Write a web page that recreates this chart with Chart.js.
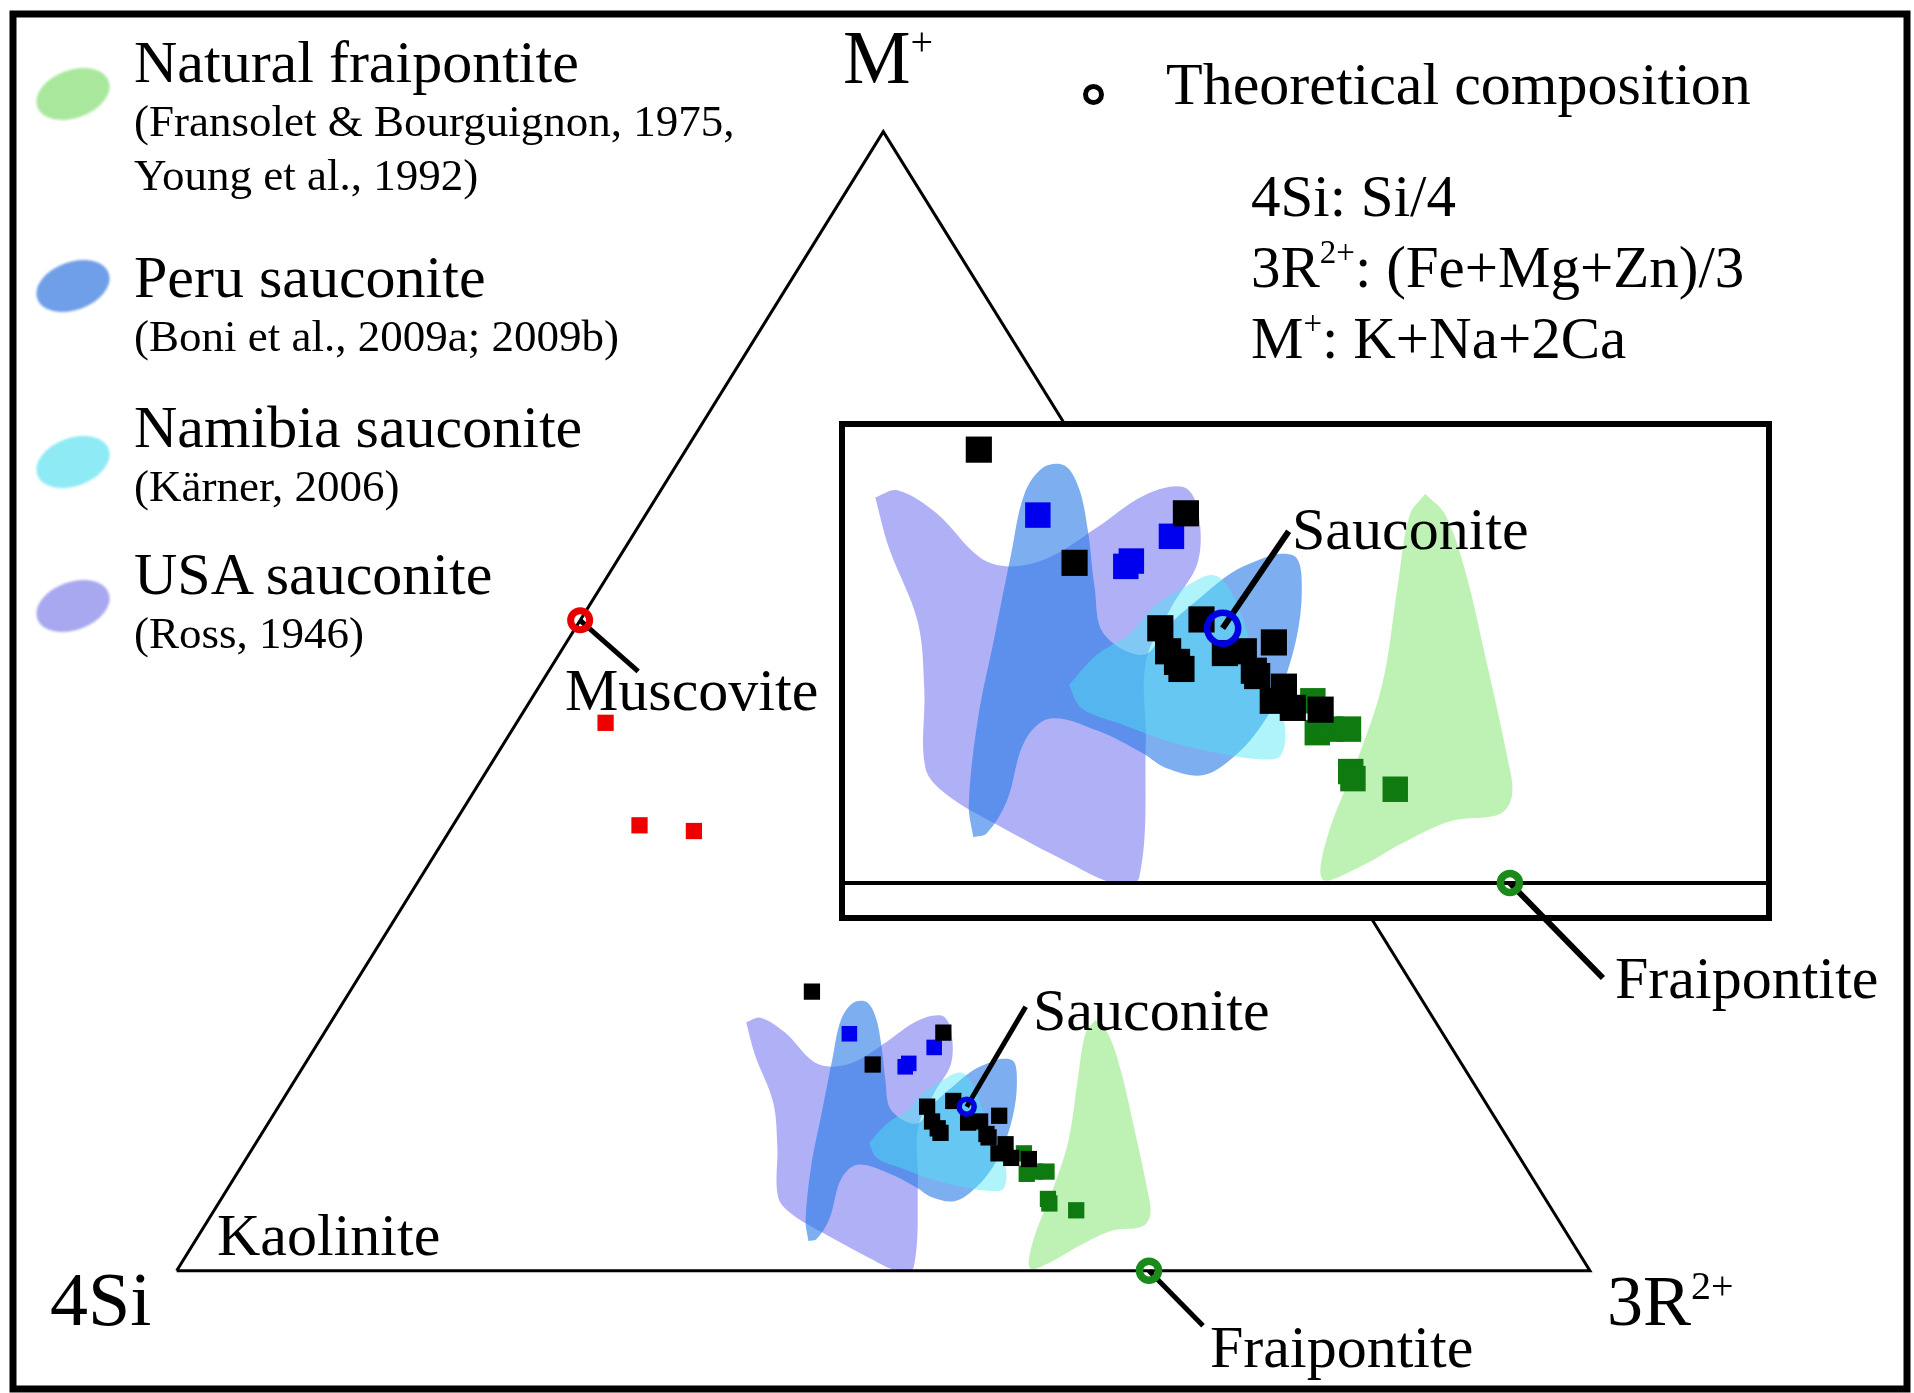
<!DOCTYPE html>
<html><head><meta charset="utf-8">
<script src="https://cdn.jsdelivr.net/npm/chart.js@4.4.0/dist/chart.umd.min.js"></script>
<style>
html,body{margin:0;padding:0;background:#fff;}
#wrap{position:relative;width:1914px;height:1393px;overflow:hidden;font-family:"Liberation Serif","Times New Roman",serif;color:#000;}
canvas{position:absolute;}
.lbl{position:absolute;white-space:nowrap;line-height:1;}
.sup{position:relative;}
.ell{position:absolute;border-radius:50%;}
</style></head>
<body><div id="wrap">
<canvas id="main" width="1914" height="1393" style="left:0;top:0;width:1914px;height:1393px"></canvas>
<canvas id="inset" width="1084" height="640" style="left:830px;top:410px;width:1084px;height:640px"></canvas>
</div>
<script>
// ===== DATA: ternary compositions, % of 3R2+ and M+ (4Si = 100 - 3R2+ - M+) =====
const triangleVertices = [[0,0],[100,0],[0,100],[0,0]];          // 4Si, 3R2+, M+
const theoryNames  = ['Muscovite','Sauconite','Fraipontite'];
const theoryR      = [0, 48.7, 68.8];
const theoryM      = [57.1, 14.4, 0];
const theoryColors = ['#e60000','#0000e0','#1a8a1a'];

const blackSquares = [[32.7,24.5],[43.8,20.9],[40.2,18.1],[45.9,14.4],[46.9,13.1],[47.6,12.5],[48.0,12.1],
  [47.5,14.9],[49.5,13.0],[50.3,13.1],[51.4,13.6],[51.3,12.0],[51.6,11.7],[53.1,11.1],[53.0,10.3],[54.1,9.9],[55.4,9.8]];
const blueSquares  = [[37.2,20.8],[42.6,17.9],[42.7,18.2],[43.8,19.6]];
const greenSquares = [[54.8,10.3],[55.9,8.5],[56.4,8.7],[57.2,8.7],[58.5,6.3],[58.8,5.9],[61.0,5.3]];
const redSquares   = [[6.3,48.1],[13.2,39.1],[17.3,38.6]];

const usaField = [[29.4,21.8],[30.2,22.2],[32.6,20.9],[35.8,18.4],[37.4,17.9],[38.9,18.4],[40.2,20.1],[41.4,21.9],
  [42.9,22.4],[44.1,21.3],[45.7,18.2],[45.8,15.6],[46.2,12.5],[48.4,8.1],[52.0,0.3],[51.0,0],[48.5,1.1],[44.1,3.3],
  [41.0,5.0],[39.3,6.5],[37.0,11.0],[34.8,14.8],[31.4,19.0]];
const peruField = [[43.4,2.6],[42.3,4.4],[40.3,9.2],[38.7,13.9],[37.1,18.6],[36.0,22.0],[36.1,23.5],[37.0,23.6],
  [38.3,22.3],[39.9,19.9],[41.8,16.7],[43.5,14.1],[45.9,12.9],[46.2,14.6],[46.9,16.3],[47.5,17.5],[48.3,18.2],
  [49.1,18.6],[50.0,18.4],[50.9,17.1],[52.1,14.4],[53.0,11.2],[53.2,9.2],[52.9,7.3],[52.0,6.1],[50.1,6.5],[48.7,7.3],
  [46.0,8.6],[43.5,9.3],[43.0,8.0],[43.9,4.6],[43.9,2.8]];
const namibiaField = [[43.4,11.2],[43.8,12.9],[44.7,14.1],[45.0,15.6],[45.8,16.7],[46.8,17.4],[48.2,16.3],[50.6,13.3],
  [53.0,10.5],[54.3,8.8],[54.9,7.2],[54.1,7.0],[52.2,7.3],[49.5,8.0],[46.8,9.0],[44.6,9.9]];
const fraipontiteField = [[54.0,22.0],[55.5,20.8],[58.0,17.6],[61.5,12.5],[65.0,7.3],[66.4,5.0],[66.4,3.9],[64.4,3.5],
  [62.8,2.2],[61.6,0.9],[60.3,0.2],[59.3,2.6],[58.4,7.3],[57.4,11.4],[55.4,16.7],[53.9,20.8]];

const fieldNames  = ['Natural fraipontite','Peru sauconite','Namibia sauconite','USA sauconite'];
const fieldRefs   = ['(Fransolet &amp; Bourguignon, 1975,<br>Young et al., 1992)','(Boni et al., 2009a; 2009b)','(Kärner, 2006)','(Ross, 1946)'];
const fieldFills  = ['rgba(125,228,105,0.5)','rgba(38,122,230,0.6)','rgba(76,231,243,0.45)','rgba(111,111,239,0.55)'];
const fieldSwatch = ['#a9e89c','#6f9fe8','#8eeaf4','#a8a8f0'];

// ===== helpers =====
const toXY = ([r, m]) => ({x: r + m / 2, y: m});
const pts = list => list.map(toXY);

function fieldDs(label, list, color, order) {
  const d = pts(list); d.push(d[0]);
  return {type:'line', label, data:d, backgroundColor:color, borderColor:'rgba(0,0,0,0)', borderWidth:0,
          fill:'shape', tension:0.35, pointRadius:0, order};
}
function sqDs(label, list, color, radius, order) {
  return {type:'scatter', label, data:pts(list), pointStyle:'rect', pointRadius:radius,
          backgroundColor:color, borderWidth:0, order};
}

const leaderPlugin = {
  id:'leaders',
  beforeDatasetDraw(chart, args, opts) {
    const ds = chart.data.datasets[args.index];
    if (ds.label !== 'Theoretical composition') return;
    const ctx = chart.ctx;
    ctx.save(); ctx.strokeStyle = '#000'; ctx.lineWidth = opts.width; ctx.lineCap = 'butt';
    args.meta.data.forEach((el, i) => {
      const o = opts.offsets[i]; if (!o) return;
      ctx.beginPath(); ctx.moveTo(el.x, el.y); ctx.lineTo(el.x + o[0], el.y + o[1]); ctx.stroke();
    });
    ctx.restore();
  }
};
const framePlugin = {
  id:'frame',
  afterDraw(chart) {
    const ctx = chart.ctx; ctx.save(); ctx.strokeStyle = '#000'; ctx.lineWidth = 7;
    ctx.strokeRect(13, 14, 1894, 1375); ctx.restore();
  }
};
const insetBoxPlugin = {
  id:'insetBox',
  beforeDraw(chart) {
    const a = chart.chartArea, ctx = chart.ctx; ctx.save(); ctx.fillStyle = '#fff';
    ctx.fillRect(a.left - 6, a.top - 6, a.right - a.left + 12, a.bottom - a.top + 12); ctx.restore();
  },
  afterDraw(chart) {
    const a = chart.chartArea, ctx = chart.ctx; ctx.save(); ctx.strokeStyle = '#000'; ctx.lineWidth = 6;
    ctx.strokeRect(a.left - 3, a.top - 3, a.right - a.left + 6, a.bottom - a.top + 6); ctx.restore();
  }
};

function makeConfig(s) {
  const theory = theoryR.map((r, i) => toXY([r, theoryM[i]]));
  return {
    type:'scatter',
    data:{datasets:[
      {type:'scatter', label:'Theoretical composition', data:theory, pointStyle:'circle',
       pointRadius:s.circleR, borderWidth:s.circleW, borderColor:theoryColors, backgroundColor:'rgba(0,0,0,0)', order:0},
      {type:'line', label:'triangle', data:pts(triangleVertices), borderColor:'#000', borderWidth:s.triW,
       pointRadius:0, fill:false, tension:0, order:1},
      sqDs('black', blackSquares, '#000', s.sq, 2),
      sqDs('blue', blueSquares, '#0000ee', s.sqB, 3),
      sqDs('red', redSquares, '#ee0000', s.sq, 3),
      sqDs('green', greenSquares, '#0f7a0f', s.sqG, 4),
      fieldDs(fieldNames[0], fraipontiteField, fieldFills[0], 5),
      fieldDs(fieldNames[2], namibiaField, fieldFills[2], 6),
      fieldDs(fieldNames[1], peruField, fieldFills[1], 7),
      fieldDs(fieldNames[3], usaField, fieldFills[3], 8)
    ]},
    options:{
      responsive:false, animation:false, events:[],
      layout:{padding:s.padding, autoPadding:false},
      scales:{x:{type:'linear', display:false, min:s.x[0], max:s.x[1]},
              y:{type:'linear', display:false, min:s.y[0], max:s.y[1]}},
      plugins:{legend:{display:false}, tooltip:{enabled:false},
               leaders:{offsets:s.leaders, width:s.leaderW}}
    },
    plugins:[leaderPlugin].concat(s.extra)
  };
}

new Chart(document.getElementById('main'), makeConfig({
  x:[-12.50, 122.93], y:[-10.74, 111.56], padding:0,
  circleR:[9.5, 7.5, 9.5], circleW:[7, 5.5, 7.5], triW:3, sq:11.5, sqB:11, sqG:11.5,
  leaders:[[58,51],[59,-100],[54,55]], leaderW:5, extra:[framePlugin]
}));
new Chart(document.getElementById('inset'), makeConfig({
  x:[38.94, 80.30], y:[-1.81, 25.78], padding:{left:15, top:17, right:148, bottom:135},
  circleR:[9.5, 15.5, 9.5], circleW:[7, 6.5, 7.5], triW:4, sq:18.5, sqB:18, sqG:18,
  leaders:[null,[66,-97],[93,95]], leaderW:6, extra:[insetBoxPlugin]
}));

// ===== text (real HTML text) =====
const wrap = document.getElementById('wrap');
function label(html, x, baseline, size) {
  const d = document.createElement('div'); d.className = 'lbl';
  d.style.left = x + 'px'; d.style.top = (baseline - 0.8375 * size) + 'px'; d.style.fontSize = size + 'px';
  d.innerHTML = html; d.style.zIndex = 5; wrap.appendChild(d); return d;
}
const sup = (t, size, raise) => `<span class="sup" style="font-size:${size}px;top:-${raise}px">${t}</span>`;

// legend of fields
const legendBase = [82, 297, 447, 594];
fieldNames.forEach((n, i) => {
  label(n, 134, legendBase[i], 60);
  const refs = fieldRefs[i].split('<br>');
  refs.forEach((r, j) => label(r, 134, legendBase[i] + 55 + j * 54, 45));
  const e = document.createElement('div'); e.className = 'ell';
  e.style.cssText += `left:${73-38}px;top:${[94,286,462,606][i]-24}px;width:76px;height:48px;background:${fieldSwatch[i]};transform:rotate(-20deg);filter:blur(1px);z-index:5`;
  wrap.appendChild(e);
});
// theoretical composition legend
const c = document.createElement('div'); c.className = 'ell';
c.style.cssText += 'left:1083px;top:84px;width:11px;height:11px;border:5.5px solid #000;background:#fff;z-index:5';
wrap.appendChild(c);
label('Theoretical composition', 1166, 104, 60);
label('4Si: Si/4', 1251, 216, 59);
label('3R' + sup('2+', 33, 24) + ': (Fe+Mg+Zn)/3', 1251, 287, 59);
label('M' + sup('+', 33, 24) + ': K+Na+2Ca', 1251, 358, 59);
// vertices
label('M' + sup('+', 40, 28), 843, 83, 76);
label('4Si', 50, 1325, 76);
label('3R' + sup('2+', 40, 26), 1607, 1325, 72);
// minerals
label('Kaolinite', 217, 1255, 60);
label('Muscovite', 565, 710, 60);
label('Sauconite', 1033, 1030, 60);
label('Fraipontite', 1210, 1367, 60);
label('Sauconite', 1292, 549, 60);
label('Fraipontite', 1615, 998, 60);
</script>
</body></html>
